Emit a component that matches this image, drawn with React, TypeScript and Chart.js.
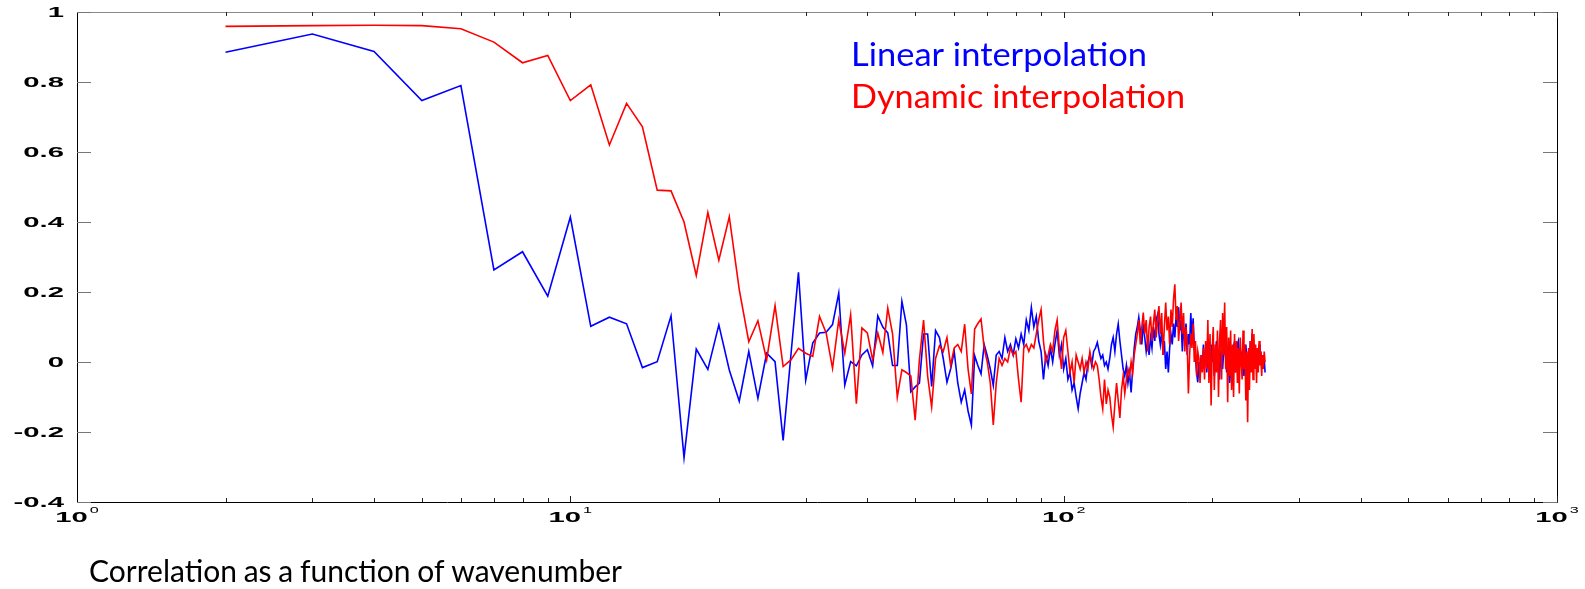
import React, { useEffect, useRef } from "react";
import { Chart, registerables } from "chart.js";

Chart.register(...registerables);

const wavenumbers = [
  2, 3, 4, 5, 6, 7, 8, 9, 10, 11, 12, 13, 14, 15, 16, 17, 18, 19, 20, 21, 22, 23, 24, 25, 26, 27, 28, 29,
  30, 31, 32, 33, 34, 35, 36, 37, 38, 39, 40, 41, 42, 43, 44, 45, 46, 47, 48, 49, 50, 51, 52, 53, 54, 55,
  56, 57, 58, 59, 60, 61, 62, 63, 64, 65, 66, 67, 68, 69, 70, 71, 72, 73, 74, 75, 76, 77, 78, 79, 80, 81,
  82, 83, 84, 85, 86, 87, 88, 89, 90, 91, 92, 93, 94, 95, 96, 97, 98, 99, 100, 101, 102, 103, 104, 105,
  106, 107, 108, 109, 110, 111, 112, 113, 114, 115, 116, 117, 118, 119, 120, 121, 122, 123, 124, 125,
  126, 127, 128, 129, 130, 131, 132, 133, 134, 135, 136, 137, 138, 139, 140, 141, 142, 143, 144, 145,
  146, 147, 148, 149, 150, 151, 152, 153, 154, 155, 156, 157, 158, 159, 160, 161, 162, 163, 164, 165,
  166, 167, 168, 169, 170, 171, 172, 173, 174, 175, 176, 177, 178, 179, 180, 181, 182, 183, 184, 185,
  186, 187, 188, 189, 190, 191, 192, 193, 194, 195, 196, 197, 198, 199, 200, 201, 202, 203, 204, 205,
  206, 207, 208, 209, 210, 211, 212, 213, 214, 215, 216, 217, 218, 219, 220, 221, 222, 223, 224, 225,
  226, 227, 228, 229, 230, 231, 232, 233, 234, 235, 236, 237, 238, 239, 240, 241, 242, 243, 244, 245,
  246, 247, 248, 249, 250, 251, 252, 253, 254, 255, 256,
];

// Linear interpolation (blue)
const linearCorr = [
  0.885, 0.937, 0.887, 0.747, 0.79, 0.263, 0.315, 0.188, 0.414, 0.102, 0.128, 0.109, -0.016, 0.001,
  0.132, -0.273, 0.037, -0.021, 0.106, -0.023, -0.112, 0.03, -0.104, 0.025, 0.001, -0.224, 0.02, 0.256,
  -0.052, 0.054, 0.083, 0.085, 0.107, 0.197, -0.066, 0.001, -0.011, 0.02, 0.035, -0.011, 0.132, 0.1,
  0.083, -0.01, -0.01, 0.173, 0.106, -0.085, -0.071, -0.06, 0.08, 0.08, -0.07, 0.09,
  // 56-65
  0.07, 0.01, -0.058, -0.02, 0.03, -0.06, -0.115, -0.08, -0.14, -0.18,
  // 66-75
  0.018, -0.01, -0.034, 0.05, 0.018, -0.02, -0.067, 0.02, 0.03, 0.01,
  // 76-85
  0.07, 0.03, 0.05, 0.02, 0.066, 0.04, 0.08, 0.05, 0.12, 0.09,
  // 86-95
  0.156, 0.1, 0.13, 0.06, 0.03, -0.05, 0.02, -0.01, 0.04, 0.0,
  // 96-105
  0.05, 0.09, 0.02, 0.05, -0.02, 0.01, -0.05, -0.03, -0.08, -0.06,
  // 106-115
  -0.1, -0.134, -0.09, -0.06, -0.03, -0.05, 0.0, 0.02, -0.01, 0.03,
  // 116-125
  0.04, 0.056, 0.03, 0.01, 0.02, -0.01, 0.0, -0.02, 0.01, 0.05,
  // 126-135
  0.07, 0.03, 0.08, 0.109, 0.06, 0.02, -0.02, -0.04, -0.01, -0.06,
  // 136-145
  -0.03, -0.087, -0.02, 0.04, 0.08, 0.1, 0.128, 0.09, 0.05, 0.11,
  // 146-155
  0.07, 0.03, 0.06, 0.02, 0.07, 0.04, 0.1, 0.06, 0.12, 0.135,
  // 156-165
  0.08, 0.05, 0.09, 0.02, 0.06, -0.02, 0.03, -0.03, 0.04, 0.08,
  // 166-175
  0.05, 0.11, 0.07, 0.13, 0.1, 0.156, 0.09, 0.12, 0.03, 0.1,
  // 176-185
  0.06, 0.11, 0.02, 0.08, 0.05, 0.14, 0.07, 0.125, 0.04, 0.01,
  // 186-195
  -0.03, -0.058, 0.0, -0.04, 0.02, -0.02, 0.05, 0.0, 0.03, -0.03,
  // 196-205
  0.02, 0.04, -0.01, 0.05, 0.0, 0.03, -0.04, 0.01, 0.06, 0.02,
  // 206-215
  0.0, -0.05, 0.02, 0.04, -0.02, 0.03, 0.05, 0.01, -0.03, 0.02,
  // 216-225
  -0.01, -0.06, -0.02, 0.03, 0.0, 0.04, 0.02, -0.03, 0.01, 0.05,
  // 226-235
  0.06, 0.02, 0.04, -0.01, 0.03, 0.0, -0.04, 0.02, 0.05, 0.01,
  // 236-245
  -0.02, 0.03, 0.0, 0.06, 0.04, 0.08, 0.03, 0.05, 0.0, 0.02,
  // 246-256
  -0.02, 0.03, 0.01, 0.05, 0.0, 0.03, -0.02, 0.02, 0.0, 0.01, -0.03,
];

// Dynamic interpolation (red)
const dynamicCorr = [
  0.959, 0.961, 0.962, 0.961, 0.952, 0.914, 0.855, 0.876, 0.747, 0.792, 0.62, 0.739, 0.672, 0.491,
  0.489, 0.4, 0.247, 0.427, 0.291, 0.415, 0.207, 0.058, 0.118, 0.006, 0.161, -0.013, 0.006, 0.039,
  0.025, 0.016, 0.13, 0.083, -0.018, 0.12, 0.025, 0.135, -0.119, 0.097, 0.083, 0.006, 0.083, 0.027,
  0.154, 0.08, -0.1, -0.022, -0.03, -0.04, -0.166, 0.006, 0.12, -0.04, -0.128, 0.01,
  // 56-65
  0.046, 0.03, 0.07, -0.01, 0.04, 0.05, 0.03, 0.108, -0.02, -0.091,
  // 66-75
  0.094, 0.11, 0.123, 0.04, 0.0, -0.06, -0.18, -0.06, 0.01, -0.01,
  // 76-85
  0.01, 0.0, 0.04, 0.02, 0.03, -0.05, -0.115, 0.04, 0.05, 0.03,
  // 86-95
  0.05, 0.04, 0.08, 0.12, 0.15, 0.06, 0.0, 0.02, 0.05, 0.03,
  // 96-105
  0.09, 0.12, 0.04, -0.02, 0.07, 0.09, 0.03, -0.03, 0.0, -0.06,
  // 106-115
  0.02, 0.0, -0.02, 0.01, -0.03, 0.0, -0.02, 0.03, 0.0, -0.02,
  // 116-125
  0.0, -0.01, -0.05, -0.1, -0.134, -0.05, -0.12, -0.08, -0.1, -0.15,
  // 126-135
  -0.186, -0.12, -0.06, -0.11, -0.16, -0.08, -0.04, -0.09, -0.05, -0.02,
  // 136-145
  -0.04, 0.0, -0.03, 0.02, 0.05, 0.08, 0.12, 0.05, 0.1, 0.141,
  // 146-155
  0.08, 0.12, 0.03, 0.1, 0.13, 0.06, 0.11, 0.15, 0.07, 0.12,
  // 156-165
  0.16, 0.08, 0.14, 0.02, 0.1, 0.17, 0.09, 0.13, 0.05, 0.15,
  // 166-175
  0.1, 0.18, 0.222, 0.12, 0.16, 0.06, 0.11, 0.17, 0.08, 0.14,
  // 176-185
  0.03, 0.1, 0.05, -0.09, 0.02, 0.08, 0.04, 0.11, 0.0, 0.06,
  // 186-195
  -0.04, 0.03, 0.01, -0.06, 0.02, -0.03, 0.04, -0.05, 0.06, -0.02,
  // 196-205
  0.12, -0.06, 0.08, -0.124, 0.03, 0.1, -0.08, 0.05, -0.03, 0.09,
  // 206-215
  -0.1, 0.06, 0.12, -0.05, 0.14, 0.02, 0.17, -0.02, 0.1, -0.115,
  // 216-225
  0.07, -0.04, 0.09, -0.08, 0.05, -0.1, 0.08, -0.03, 0.06, -0.06,
  // 226-235
  0.04, -0.09, 0.07, 0.0, -0.05, 0.09, -0.02, 0.05, -0.11, 0.03,
  // 236-245
  -0.172, 0.04, -0.08, 0.06, -0.03, 0.094, -0.05, 0.08, -0.02, 0.05,
  // 246-256
  -0.06, 0.04, -0.03, 0.06, -0.01, 0.03, -0.04, 0.02, -0.02, 0.03, 0.0,
];

const yTickValues = [-0.4, -0.2, 0, 0.2, 0.4, 0.6, 0.8, 1];
const yTickLabels = ["-0.4", "-0.2", "0", "0.2", "0.4", "0.6", "0.8", "1"];
const xDecades = [1, 10, 100, 1000];
const xDecadeExponents = ["0", "1", "2", "3"];
const seriesLabels = ["Linear interpolation", "Dynamic interpolation"];
const seriesColors = ["#0000ff", "#ff0000"];
const chartTitle = "Correlation as a function of wavenumber";

const W = 1585;
const H = 589;
const TEXT_FAMILY = "Lato, 'Open Sans', sans-serif";
const TICK_FAMILY = "'Liberation Sans', Arial, sans-serif";

// draw text at a fixed font size, compressed horizontally to a target width
function drawFitted(
  ctx: CanvasRenderingContext2D,
  text: string,
  size: number,
  x: number,
  y: number,
  targetW: number,
  color: string,
  wordSpacing = "0px"
) {
  ctx.save();
  ctx.font = `${size}px ${TEXT_FAMILY}`;
  (ctx as any).wordSpacing = wordSpacing;
  const w = ctx.measureText(text).width;
  const sx = targetW / w;
  ctx.translate(x, y);
  ctx.scale(sx, 1);
  ctx.fillStyle = color;
  ctx.textAlign = "left";
  ctx.textBaseline = "alphabetic";
  ctx.fillText(text, 0, 0);
  ctx.restore();
}

const matlabAxes = {
  id: "matlabAxes",
  afterDraw(chart: any) {
    const { ctx, chartArea: a, scales } = chart;
    const xs = scales.x;
    const ys = scales.y;
    ctx.save();

    // frame
    ctx.lineWidth = 1;
    ctx.strokeStyle = "#8a8a8a";
    ctx.beginPath();
    ctx.moveTo(a.left, Math.round(a.top) + 0.5);
    ctx.lineTo(a.right, Math.round(a.top) + 0.5);
    ctx.stroke();
    ctx.strokeStyle = "#000";
    ctx.beginPath();
    ctx.moveTo(Math.round(a.left) + 0.5, a.top);
    ctx.lineTo(Math.round(a.left) + 0.5, Math.round(a.bottom) + 0.5);
    ctx.lineTo(Math.round(a.right) + 0.5, Math.round(a.bottom) + 0.5);
    ctx.lineTo(Math.round(a.right) + 0.5, a.top);
    ctx.stroke();

    // y ticks (inward, both sides)
    ctx.strokeStyle = "#777";
    yTickValues.forEach((v) => {
      const py = Math.round(ys.getPixelForValue(v)) + 0.5;
      ctx.beginPath();
      ctx.moveTo(a.left, py);
      ctx.lineTo(a.left + 14, py);
      ctx.moveTo(a.right, py);
      ctx.lineTo(a.right - 14, py);
      ctx.stroke();
    });

    // x ticks (inward, top and bottom)
    ctx.strokeStyle = "#222";
    for (let d = 0; d < xDecades.length; d++) {
      for (let m = 1; m <= 9; m++) {
        const v = xDecades[d] * m;
        if (v > 1000) break;
        if (v === 1) continue;
        const px = Math.round(xs.getPixelForValue(v)) + 0.5;
        const len = m === 1 ? 6 : 4;
        ctx.beginPath();
        ctx.moveTo(px, a.bottom);
        ctx.lineTo(px, a.bottom - len);
        ctx.moveTo(px, a.top);
        ctx.lineTo(px, a.top + len);
        ctx.stroke();
      }
    }

    // y labels (wide Helvetica-like)
    ctx.fillStyle = "#000";
    ctx.font = `bold 15px ${TICK_FAMILY}`;
    ctx.textAlign = "right";
    ctx.textBaseline = "middle";
    yTickValues.forEach((v, i) => {
      const py = ys.getPixelForValue(v);
      ctx.save();
      ctx.translate(a.left - 13, py + 1);
      ctx.scale(1.95, 1);
      ctx.fillText(yTickLabels[i], 0, 0);
      ctx.restore();
    });

    // x labels: 10 with superscript exponent
    xDecades.forEach((v, i) => {
      const px = xs.getPixelForValue(v);
      ctx.save();
      ctx.font = `bold 15px ${TICK_FAMILY}`;
      const baseW = ctx.measureText("10").width * 1.95;
      ctx.font = `9px ${TICK_FAMILY}`;
      const expW = ctx.measureText(xDecadeExponents[i]).width * 1.8;
      const total = baseW + 2 + expW;
      const left = px - total / 2;
      ctx.textAlign = "left";
      ctx.textBaseline = "alphabetic";
      ctx.save();
      ctx.translate(left, a.bottom + 20);
      ctx.scale(1.95, 1);
      ctx.font = `bold 15px ${TICK_FAMILY}`;
      ctx.fillText("10", 0, 0);
      ctx.restore();
      ctx.save();
      ctx.translate(left + baseW + 2, a.bottom + 11);
      ctx.scale(1.8, 1);
      ctx.font = `9px ${TICK_FAMILY}`;
      ctx.fillText(xDecadeExponents[i], 0, 0);
      ctx.restore();
      ctx.restore();
    });

    // legend text
    drawFitted(ctx, seriesLabels[0], 32, 851, 66, 296, seriesColors[0]);
    drawFitted(ctx, seriesLabels[1], 32, 851, 108, 334, seriesColors[1]);

    // caption
    drawFitted(ctx, chartTitle, 30.5, 89, 582, 533, "#000", "-1px");

    ctx.restore();
  },
};

export default function App() {
  const canvasRef = useRef<HTMLCanvasElement | null>(null);

  useEffect(() => {
    const canvas = canvasRef.current;
    if (!canvas) return;
    const chart = new Chart(canvas, {
      type: "line",
      data: {
        datasets: [
          {
            label: seriesLabels[0],
            data: wavenumbers.map((k, i) => ({ x: k, y: linearCorr[i] })),
            borderColor: seriesColors[0],
            backgroundColor: seriesColors[0],
            borderWidth: 1.6,
            pointRadius: 0,
            tension: 0,
            order: 1,
          },
          {
            label: seriesLabels[1],
            data: wavenumbers.map((k, i) => ({ x: k, y: dynamicCorr[i] })),
            borderColor: seriesColors[1],
            backgroundColor: seriesColors[1],
            borderWidth: 1.6,
            pointRadius: 0,
            tension: 0,
            order: 0,
          },
        ],
      },
      options: {
        responsive: false,
        animation: false,
        devicePixelRatio: 1,
        layout: { padding: { left: 0, right: 28, top: 12, bottom: 0 } },
        plugins: {
          legend: { display: false },
          tooltip: { enabled: false },
          title: { display: false },
        },
        scales: {
          x: {
            type: "logarithmic",
            min: 1,
            max: 1000,
            grid: { display: false, drawTicks: false },
            border: { display: false },
            ticks: { display: false },
            afterFit: (s: any) => {
              s.height = 87;
            },
          },
          y: {
            type: "linear",
            min: -0.4,
            max: 1,
            grid: { display: false, drawTicks: false },
            border: { display: false },
            ticks: { display: false, stepSize: 0.2 },
            afterFit: (s: any) => {
              s.width = 77;
            },
          },
        },
      },
      plugins: [matlabAxes],
    });
    return () => chart.destroy();
  }, []);

  return (
    <div style={{ position: "absolute", left: 0, top: 0, width: W, height: H, background: "#fff" }}>
      <canvas ref={canvasRef} width={W} height={H} style={{ display: "block", width: W, height: H }} />
    </div>
  );
}
